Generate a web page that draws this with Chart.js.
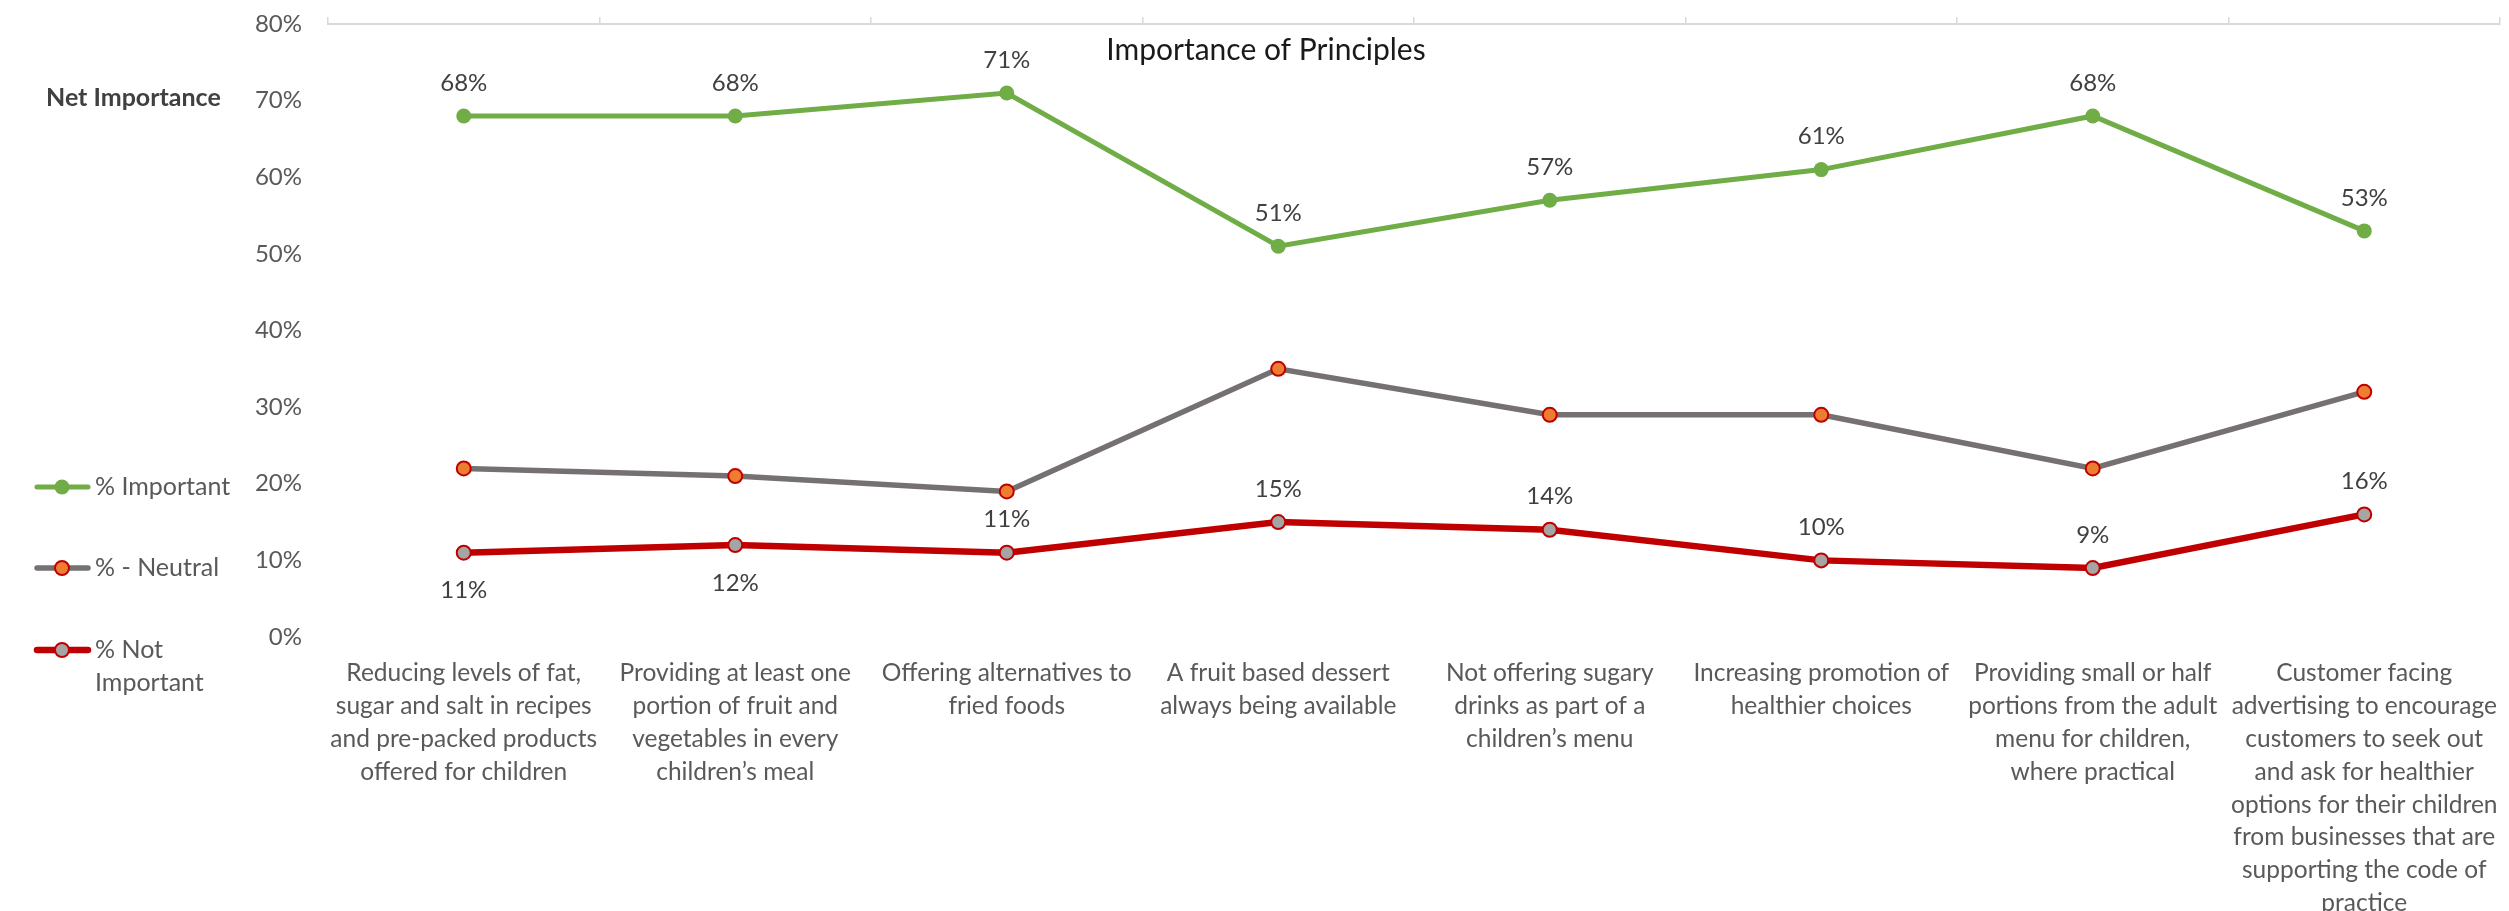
<!DOCTYPE html>
<html>
<head>
<meta charset="utf-8">
<title>Importance of Principles</title>
<script src="https://cdn.jsdelivr.net/npm/chart.js@4.4.1/dist/chart.umd.min.js"></script>
<style>
  html, body { margin: 0; padding: 0; background: #ffffff; }
  #wrap { width: 2509px; height: 911px; position: relative; }
</style>
</head>
<body>
<div id="wrap"><canvas id="chart" width="2509" height="911"></canvas></div>
<script>
// ---- data ----
const categories = [
  ['Reducing levels of fat,', 'sugar and salt in recipes', 'and pre-packed products', 'offered for children'],
  ['Providing at least one', 'portion of fruit and', 'vegetables in every', 'children\u2019s meal'],
  ['Offering alternatives to', 'fried foods'],
  ['A fruit based dessert', 'always being available'],
  ['Not offering sugary', 'drinks as part of a', 'children\u2019s menu'],
  ['Increasing promotion of', 'healthier choices'],
  ['Providing small or half', 'portions from the adult', 'menu for children,', 'where practical'],
  ['Customer facing', 'advertising to encourage', 'customers to seek out', 'and ask for healthier', 'options for their children', 'from businesses that are', 'supporting the code of', 'practice']
];
const seriesNames = ['% Important', '% - Neutral', '% Not Important'];
const important = [68, 68, 71, 51, 57, 61, 68, 53];
const neutral = [22, 21, 19, 35, 29, 29, 22, 32];
const notImportant = [11, 12, 11, 15, 14, 10, 9, 16];
const yTicks = [0, 10, 20, 30, 40, 50, 60, 70, 80];
const chartTitle = 'Importance of Principles';
const sideHeading = 'Net Importance';

// label placement per point: which series show values, and on which side
const labelPlacement = [
  ['above', 'above', 'above', 'above', 'above', 'above', 'above', 'above'],
  null,
  ['below', 'below', 'above', 'above', 'above', 'above', 'above', 'above']
];

const FONT = 'Lato, "Open Sans", sans-serif';
const AXIS_TEXT = '#595959';
const LABEL_TEXT = '#404040';

// value labels drawn next to each point
const valueLabels = {
  id: 'valueLabels',
  afterDatasetsDraw(chart) {
    const ctx = chart.ctx;
    ctx.save();
    ctx.font = '24px ' + FONT;
    ctx.fillStyle = LABEL_TEXT;
    ctx.textAlign = 'center';
    ctx.textBaseline = 'middle';
    chart.data.datasets.forEach((ds, di) => {
      const place = labelPlacement[di];
      if (!place) return;
      const meta = chart.getDatasetMeta(di);
      meta.data.forEach((pt, i) => {
        const dy = place[i] === 'below' ? 38 : -33;
        ctx.fillText(ds.data[i] + '%', pt.x, pt.y + dy);
      });
    });
    ctx.restore();
  }
};

// title, side heading and the line-and-marker legend on the left
const decorations = {
  id: 'decorations',
  afterDraw(chart) {
    const ctx = chart.ctx;
    ctx.save();
    ctx.textBaseline = 'middle';

    ctx.font = '30px ' + FONT;
    ctx.fillStyle = '#1a1a1a';
    ctx.textAlign = 'center';
    ctx.fillText(chartTitle, 1266, 50);

    ctx.font = 'bold 25px ' + FONT;
    ctx.fillStyle = LABEL_TEXT;
    ctx.textAlign = 'left';
    ctx.fillText(sideHeading, 46, 98);

    const rows = [487, 568, 650];
    ctx.font = '25px ' + FONT;
    chart.data.datasets.forEach((ds, di) => {
      const y = rows[di];
      ctx.strokeStyle = ds.borderColor;
      ctx.lineWidth = ds.borderWidth;
      ctx.lineCap = 'round';
      ctx.beginPath();
      ctx.moveTo(37, y);
      ctx.lineTo(88, y);
      ctx.stroke();
      ctx.beginPath();
      ctx.arc(62, y, ds.pointRadius, 0, Math.PI * 2);
      ctx.fillStyle = ds.pointBackgroundColor;
      ctx.fill();
      if (ds.pointBorderWidth) {
        ctx.lineWidth = ds.pointBorderWidth;
        ctx.strokeStyle = ds.pointBorderColor;
        ctx.stroke();
      }
      // wrap legend text to the legend column width
      const words = ds.label.split(' ');
      const lines = [];
      let cur = '';
      words.forEach(w => {
        const test = cur ? cur + ' ' + w : w;
        if (cur && ctx.measureText(test).width > 145) { lines.push(cur); cur = w; }
        else cur = test;
      });
      lines.push(cur);
      ctx.fillStyle = AXIS_TEXT;
      lines.forEach((ln, k) => ctx.fillText(ln, 95, y + k * 33));
    });
    ctx.restore();
  }
};

const lineDs = (label, data, color, width, fill, border, borderW, radius) => ({
  label, data,
  borderColor: color,
  backgroundColor: color,
  borderWidth: width,
  tension: 0,
  pointRadius: radius,
  pointHoverRadius: radius,
  pointBackgroundColor: fill,
  pointBorderColor: border,
  pointBorderWidth: borderW
});

new Chart(document.getElementById('chart'), {
  type: 'line',
  data: {
    labels: categories,
    datasets: [
      lineDs(seriesNames[0], important, '#70AD47', 5, '#70AD47', '#70AD47', 0, 7.5),
      lineDs(seriesNames[1], neutral, '#767171', 5.5, '#ED7D31', '#C00000', 2, 7),
      lineDs(seriesNames[2], notImportant, '#C00000', 6.5, '#A5A5A5', '#C00000', 2, 7)
    ]
  },
  options: {
    responsive: false,
    devicePixelRatio: 1,
    animation: false,
    layout: { padding: { top: 24, right: 0, bottom: 0, left: 0 } },
    plugins: {
      legend: { display: false },
      title: { display: false },
      tooltip: { enabled: false }
    },
    scales: {
      x: {
        type: 'category',
        position: 'bottom',
        offset: true,
        grid: { display: false, drawTicks: false },
        border: { display: false },
        ticks: {
          autoSkip: false,
          maxRotation: 0,
          minRotation: 0,
          padding: 20,
          color: AXIS_TEXT,
          font: { family: FONT, size: 24.5, lineHeight: 1.34 }
        },
        afterFit(axis) { axis.height = 274; axis.paddingLeft = 0; axis.paddingRight = 0; }
      },
      xTop: {
        type: 'category',
        position: 'top',
        labels: categories,
        offset: true,
        grid: { display: true, drawOnChartArea: false, drawTicks: true, tickLength: 7, color: '#d9d9d9', lineWidth: 1.5, offset: true },
        border: { display: true, color: '#d9d9d9', width: 2 },
        ticks: { display: false },
        afterFit(axis) { axis.height = 0; axis.paddingLeft = 0; axis.paddingRight = 0; }
      },
      y: {
        min: yTicks[0],
        max: yTicks[yTicks.length - 1],
        afterBuildTicks(axis) { axis.ticks = yTicks.map(v => ({ value: v })); },
        grid: { display: false, drawTicks: false },
        border: { display: false },
        ticks: {
          padding: 26,
          color: AXIS_TEXT,
          font: { family: FONT, size: 24 },
          callback: v => v + '%'
        },
        afterFit(axis) { axis.width = 328; axis.paddingTop = 0; axis.paddingBottom = 0; }
      }
    }
  },
  plugins: [valueLabels, decorations]
});
</script>
</body>
</html>
